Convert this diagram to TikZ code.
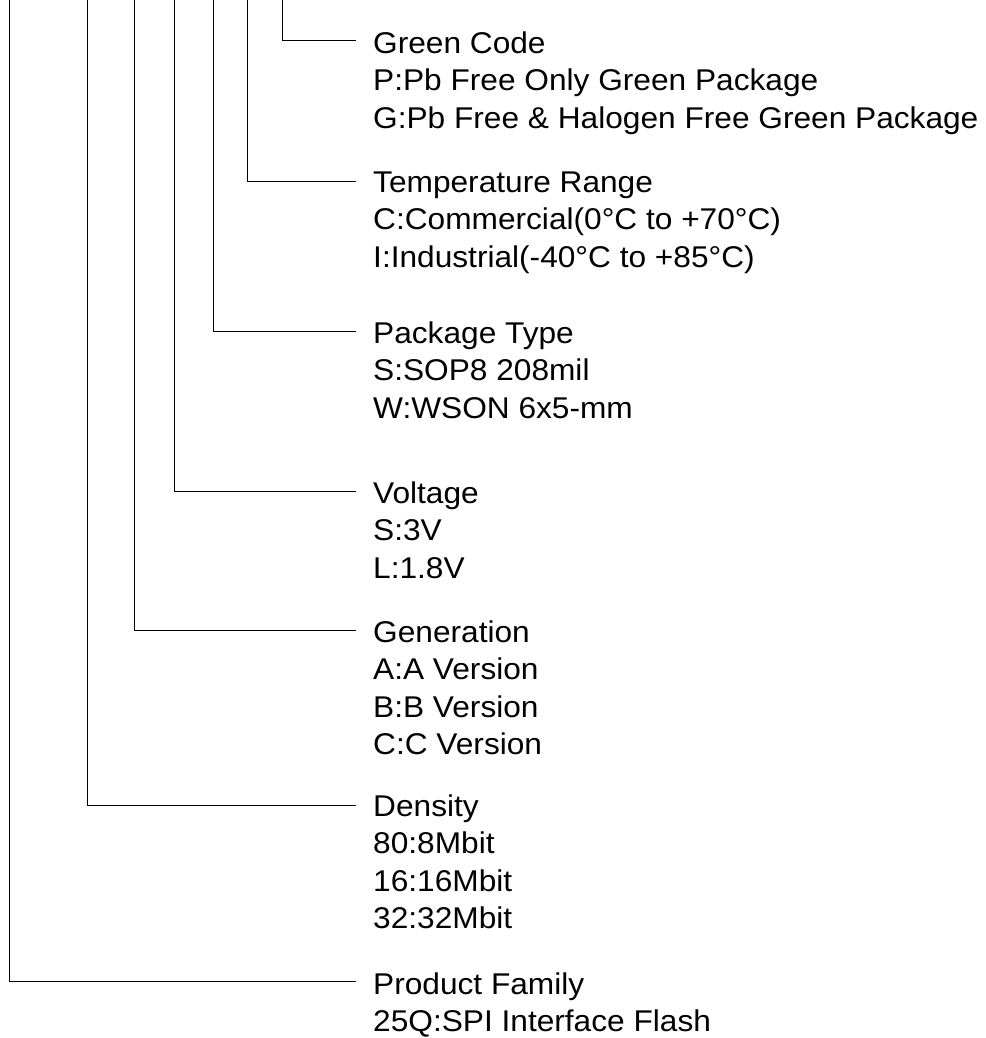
\documentclass[tikz,border=0pt]{standalone}
\usepackage{fontspec}
\setmainfont{Liberation Sans}
\newfontfamily\codefont[FakeStretch=1.055]{Liberation Sans}
\begin{document}
\begin{tikzpicture}[x=1pt,y=-1pt]
\tikzset{lead/.style={line width=1pt},
 field/.style={anchor=north west, inner sep=0pt, align=left, font=\codefont\fontsize{30}{37.5}\selectfont}}
\useasboundingbox (0,0) rectangle (985,1038);
\coordinate (G0) at (282,0);
\coordinate (G1) at (356,41);
\coordinate (T0) at (247,0);
\coordinate (T1) at (356,181);
\coordinate (K0) at (213.5,0);
\coordinate (K1) at (356,331);
\coordinate (V0) at (174.5,0);
\coordinate (V1) at (356,491);
\coordinate (N0) at (134.5,0);
\coordinate (N1) at (356,630);
\coordinate (D0) at (87,0);
\coordinate (D1) at (356,805);
\coordinate (F0) at (9.5,0);
\coordinate (F1) at (356,981);

 \draw[lead] (G0) |- (G1);
 \draw[lead] (T0) |- (T1);
 \draw[lead] (K0) |- (K1);
 \draw[lead] (V0) |- (V1);
 \draw[lead] (N0) |- (N1);
 \draw[lead] (D0) |- (D1);
 \draw[lead] (F0) |- (F1);
\node[field] (green) at (373,31.5) {Green Code\\P:Pb Free Only Green Package\\G:Pb Free \& Halogen Free Green Package};
\node[field] (temp) at (373,171.5) {Temperature Range\\C:Commercial(0°C to +70°C)\\I:Industrial(-40°C to +85°C)};
\node[field] (pack) at (373,321.5) {Package Type\\S:SOP8 208mil\\W:WSON 6x5-mm};
\node[field] (volt) at (373,481.5) {Voltage\\S:3V\\L:1.8V};
\node[field] (gen) at (373,620.5) {Generation\\A:A Version\\B:B Version\\C:C Version};
\node[field] (dens) at (373,794.5) {Density\\80:8Mbit\\16:16Mbit\\32:32Mbit};
\node[field] (family) at (373,972.5) {Product Family\\25Q:SPI Interface Flash};

\end{tikzpicture}
\end{document}
